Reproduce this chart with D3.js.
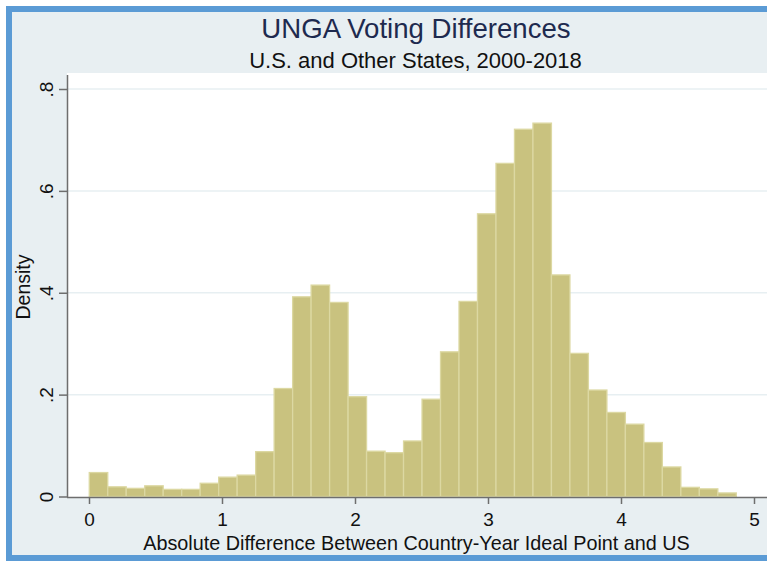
<!DOCTYPE html>
<html>
<head>
<meta charset="utf-8">
<script src="https://cdn.jsdelivr.net/npm/d3@7"></script>
<style>
  html, body { margin: 0; padding: 0; background: #ffffff; }
  svg { display: block; }
  text { font-family: "Liberation Sans", Arial, Helvetica, sans-serif; }
</style>
</head>
<body>
<svg id="chart" width="767" height="561"></svg>
<script>
// ---- data ----
const titleText = "UNGA Voting Differences";
const subtitleText = "U.S. and Other States, 2000-2018";
const xAxisTitle = "Absolute Difference Between Country-Year Ideal Point and US";
const yAxisTitle = "Density";

const binEdges = [0.002, 0.141, 0.280, 0.419, 0.558, 0.697, 0.836, 0.975, 1.114, 1.253,
                  1.392, 1.531, 1.670, 1.809, 1.948, 2.087, 2.226, 2.365, 2.504, 2.643,
                  2.782, 2.921, 3.060, 3.199, 3.338, 3.477, 3.616, 3.755, 3.894, 4.033,
                  4.172, 4.311, 4.450, 4.589, 4.728, 4.867];
const density = [0.047, 0.019, 0.016, 0.021, 0.014, 0.014, 0.026, 0.038, 0.042, 0.088,
                 0.212, 0.392, 0.415, 0.381, 0.196, 0.089, 0.086, 0.109, 0.191, 0.284,
                 0.383, 0.555, 0.654, 0.721, 0.733, 0.435, 0.281, 0.209, 0.165, 0.142,
                 0.106, 0.058, 0.018, 0.015, 0.007];
const xTicks = [0, 1, 2, 3, 4, 5];
const xTickLabels = ["0", "1", "2", "3", "4", "5"];
const yTicks = [0, 0.2, 0.4, 0.6, 0.8];
const yTickLabels = ["0", ".2", ".4", ".6", ".8"];

// ---- layout ----
const W = 767, H = 561;
const plot = { left: 67, top: 73, right: 767, bottom: 497 };

const svg = d3.select("#chart");

// outer frame (right edge is cropped off in the reference)
svg.append("rect").attr("x", 0).attr("y", 0).attr("width", W).attr("height", H).attr("fill", "#ffffff");
svg.append("rect").attr("x", 9).attr("y", 9).attr("width", W + 20).attr("height", 549)
  .attr("fill", "#E8EFF2").attr("stroke", "#5B9BD5").attr("stroke-width", 6);

// plot region
svg.append("rect").attr("x", plot.left).attr("y", plot.top)
  .attr("width", plot.right - plot.left).attr("height", plot.bottom - plot.top)
  .attr("fill", "#ffffff");

const x = d3.scaleLinear().domain([0, 5]).range([89, 754]);
const y = d3.scaleLinear().domain([0, 0.8]).range([496.5, 89]);

// gridlines
svg.append("g").selectAll("line").data(yTicks.filter(d => d > 0)).join("line")
  .attr("x1", plot.left).attr("x2", plot.right)
  .attr("y1", d => y(d)).attr("y2", d => y(d))
  .attr("stroke", "#E7EFF2").attr("stroke-width", 1.5);

// bars
const bars = density.map((v, i) => ({ x0: binEdges[i], x1: binEdges[i + 1], v }));
svg.append("g").selectAll("rect").data(bars).join("rect")
  .attr("x", d => x(d.x0))
  .attr("width", d => x(d.x1) - x(d.x0))
  .attr("y", d => y(d.v))
  .attr("height", d => y(0) - y(d.v))
  .attr("fill", "#C9C27F")
  .attr("stroke", "#DCD8A2")
  .attr("stroke-width", 1.3);

// x axis
const xAxis = d3.axisBottom(x).tickValues(xTicks)
  .tickFormat((d, i) => xTickLabels[i]).tickSize(7).tickPadding(9);
const gx = svg.append("g").attr("transform", `translate(0,${plot.bottom})`).call(xAxis);
gx.select(".domain").attr("d", `M${plot.left},0.5H${plot.right}`)
  .attr("stroke", "#6E6E6E").attr("stroke-width", 1.5);
gx.selectAll(".tick line").attr("stroke", "#6E6E6E").attr("stroke-width", 1.5);
gx.selectAll(".tick text").attr("font-size", 19).attr("fill", "#111")
  .attr("font-family", "Liberation Sans, Arial, sans-serif");

// y axis
const yAxis = d3.axisLeft(y).tickValues(yTicks)
  .tickFormat((d, i) => yTickLabels[i]).tickSize(8);
const gy = svg.append("g").attr("transform", `translate(${plot.left},0)`).call(yAxis);
gy.select(".domain").attr("d", `M0.5,${plot.top + 2}V${plot.bottom}`)
  .attr("stroke", "#6E6E6E").attr("stroke-width", 1.5);
gy.selectAll(".tick line").attr("stroke", "#6E6E6E").attr("stroke-width", 1.5);
gy.selectAll(".tick text")
  .attr("font-size", 19).attr("fill", "#111")
  .attr("font-family", "Liberation Sans, Arial, sans-serif")
  .attr("x", null).attr("dy", null)
  .attr("text-anchor", "middle")
  .attr("transform", "translate(-14,0) rotate(-90)");

// titles
svg.append("text").attr("x", 416).attr("y", 37.5).attr("text-anchor", "middle")
  .attr("font-size", 27.6).attr("fill", "#1E2A4F").text(titleText);
svg.append("text").attr("x", 415.5).attr("y", 67.5).attr("text-anchor", "middle")
  .attr("font-size", 22).attr("fill", "#111").text(subtitleText);

// axis titles
svg.append("text").attr("x", 416.5).attr("y", 549.5).attr("text-anchor", "middle")
  .attr("font-size", 19.8).attr("fill", "#111").text(xAxisTitle);
svg.append("text").attr("transform", "translate(29.5,287) rotate(-90)")
  .attr("text-anchor", "middle").attr("font-size", 19.5).attr("fill", "#111").text(yAxisTitle);
</script>
</body>
</html>
